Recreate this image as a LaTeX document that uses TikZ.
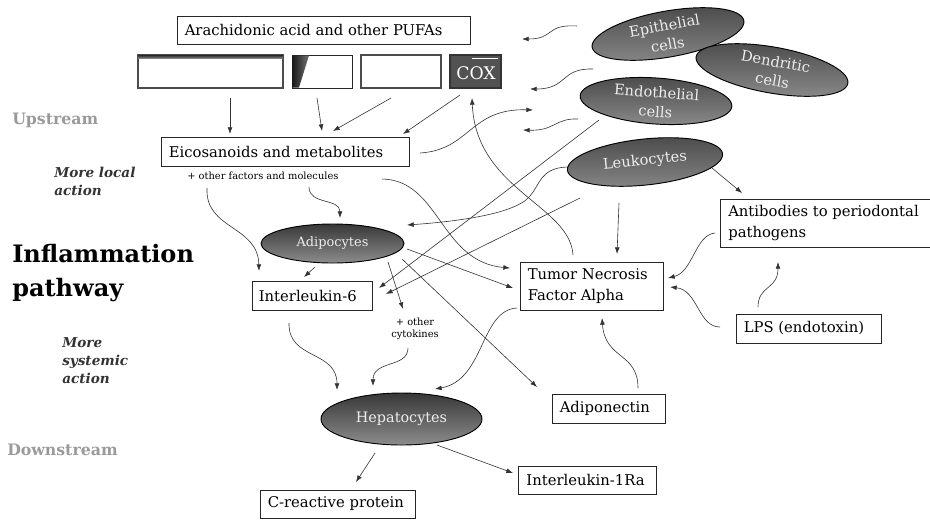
\documentclass[tikz,border=0pt]{standalone}
\usepackage{fontspec}
\setmainfont{DejaVu Serif}
\usetikzlibrary{arrows.meta,shapes.geometric,fit}
\definecolor{cellgray}{HTML}{7A7A7A}
\definecolor{celldark}{HTML}{4A4A4A}
\definecolor{streamgray}{HTML}{9A9A9A}
\definecolor{sidegray}{HTML}{333333}
\begin{document}
\begin{tikzpicture}[x=0.75pt,y=-0.75pt,
  arr/.style={draw=black!80, line width=0.45pt, -{Latex[length=5pt,width=3.6pt]}},
  box/.style={draw=black!85, line width=0.75pt, inner sep=0pt},
  txt/.style={anchor=west, inner sep=0pt, align=left, font=\fontsize{11.1}{15.5}\selectfont},
  cell/.style={ellipse, draw=black, line width=0.7pt, inner sep=0pt, top color=celldark, bottom color=cellgray!90},
  celltxt/.style={inner sep=0pt, text=white!93!black, align=center, font=\fontsize{11}{14.5}\selectfont},
  small/.style={inner sep=0pt, align=center, font=\fontsize{7.4}{9.5}\selectfont},
  stream/.style={anchor=west, inner sep=0pt, text=streamgray, font=\fontsize{11.8}{13}\selectfont\bfseries},
  side/.style={anchor=west, inner sep=0pt, align=left, text=sidegray, font=\fontsize{10.2}{13.5}\selectfont\bfseries\itshape}
]
\useasboundingbox (0,0) rectangle (930,519);

% ---------- left labels ----------
\node[stream] (up) at (12,120) {Upstream};
\node[side] (local) at (54,181) {More local\\action};
\node[anchor=west, inner sep=0pt, align=left, font=\fontsize{18}{25.5}\selectfont\bfseries] (infl) at (12,273) {Inflammation\\pathway};
\node[side] (syst) at (62,361) {More\\systemic\\action};
\node[stream] (down) at (7,450) {Downstream};

% ---------- top boxes ----------
\node[box, fit={(177,16)(470,44)}] (ara) {};
\node[txt] (aratxt) at ([xshift=6pt]ara.west) {Arachidonic acid and other PUFAs};

\node[box, draw=black!70, line width=1.1pt, fit={(138,55)(283,88)}] (b1) {};
\fill[top color=black!85, bottom color=black!50] (138,55) rectangle (283,58);
\node[box, fit={(292,55)(352,88)}] (b2) {};
\shade[left color=black!90, right color=black!55] (292.5,55.5) -- (309,55.5) -- (299,87.5) -- (292.5,87.5) -- cycle;
\node[box, draw=black!70, line width=1.1pt, fit={(361,55)(441,88)}] (b3) {};
\node[box, draw=black!80, fill=black!68, line width=1pt, fit={(450,55)(501,88)}] (cox) {};
\node[inner sep=0pt, text=white, font=\fontsize{13}{14}\selectfont] (coxtxt) at (476,73) {COX};
\draw[white, line width=0.8pt] (472,58.5) -- (498,58.5);

\node[box, fit={(161,137)(409,166)}] (eico) {};
\node[txt] (eicotxt) at ([xshift=6pt]eico.west) {Eicosanoids and metabolites};
\node[small, anchor=west] (other) at (187,176) {+ other factors and molecules};

% ---------- cells ----------
\node[cell, minimum width=154pt*0.75, minimum height=46pt*0.75, rotate=10] (epi) at (668,34) {};
\node[cell, minimum width=154pt*0.75, minimum height=46pt*0.75, rotate=-10] (dend) at (772,70) {};
\node[cell, minimum width=152pt*0.75, minimum height=46pt*0.75, rotate=-4] (endo) at (656,101) {};
\node[cell, minimum width=156pt*0.75, minimum height=46pt*0.75, rotate=6] (leuk) at (645,162) {};
\node[celltxt, rotate=10] (epitxt) at (666,35) {Epithelial\\cells};
\node[celltxt, rotate=-10] (dendtxt) at (774,71) {Dendritic\\cells};
\node[celltxt, rotate=-4] (endotxt) at (656,102) {Endothelial\\cells};
\node[celltxt, rotate=6] (leuktxt) at (645,161) {Leukocytes};
\node[cell, minimum width=143pt*0.75, minimum height=39pt*0.75, top color=black!78, bottom color=black!45] (adipo) at (332.5,243.5) {};
\node[celltxt, font=\fontsize{9.7}{12}\selectfont] (adipotxt) at (332.5,243.5) {Adipocytes};
\node[cell, minimum width=161pt*0.75, minimum height=52pt*0.75, top color=black!78, bottom color=black!45] (hepa) at (401.5,419) {};
\node[celltxt, font=\fontsize{10.8}{13}\selectfont] (hepatxt) at (401.5,419) {Hepatocytes};

% ---------- other boxes ----------
\node[box, fit={(252,281)(372,310)}] (il6) {};
\node[txt] (il6txt) at ([xshift=5.3pt]il6.west) {Interleukin-6};
\node[small] (cyto) at (415,329) {+ other\\cytokines};
\node[box, fit={(520,262)(663,310)}] (tnf) {};
\node[txt] (tnftxt) at ([xshift=6pt]tnf.west) {Tumor Necrosis\\Factor Alpha};
\node[box, fit={(720,199)(940,247)}] (ab) {};
\node[txt] (abtxt) at (728,223) {Antibodies to periodontal\\pathogens};
\node[box, fit={(736,314)(881,343)}] (lps) {};
\node[txt] (lpstxt) at ([xshift=6pt]lps.west) {LPS (endotoxin)};
\node[box, fit={(552,394)(665,423)}] (adn) {};
\node[txt] (adntxt) at ([xshift=6pt]adn.west) {Adiponectin};
\node[box, fit={(518,466)(656,494)}] (il1) {};
\node[txt] (il1txt) at ([xshift=6.5pt]il1.west) {Interleukin-1Ra};
\node[box, fit={(260,490)(415,518)}] (crp) {};
\node[txt] (crptxt) at ([xshift=6pt]crp.west) {C-reactive protein};

% ---------- connector end points ----------
\coordinate (b1s) at (230,98);   \coordinate (e1) at (230,134);
\coordinate (b2s) at (317,98);   \coordinate (e2) at (322,131);
\coordinate (b3s) at (391,98);   \coordinate (e3) at (333,131);
\coordinate (coxs) at (460,95);  \coordinate (e4) at (403,134);
\coordinate (tnfn) at (573,255); \coordinate (coxb) at (472,98);
\coordinate (epis) at (577,26);  \coordinate (epie) at (522,39);
\coordinate (ends1) at (593,69); \coordinate (ende1) at (530,89);
\coordinate (eicor) at (420,153); \coordinate (endin) at (533,110);
\coordinate (ends2) at (578,119); \coordinate (ende2) at (523,130);
\coordinate (ends3) at (599,120); \coordinate (il6a) at (379,288);
\coordinate (leuks1) at (580,198); \coordinate (il6b) at (386,294);
\coordinate (leuks2) at (567,167); \coordinate (leukm) at (530,196); \coordinate (adipr) at (407,225);
\coordinate (leukb) at (619,203); \coordinate (tnft) at (617,254);
\coordinate (leukr) at (712,168); \coordinate (abtl) at (742,193);
\coordinate (abl) at (715,233);  \coordinate (tnfr1) at (668,278);
\coordinate (lpsl) at (720,327); \coordinate (tnfr2) at (670,287);
\coordinate (lpst) at (758,307); \coordinate (abb) at (778,262);
\coordinate (adnt) at (638,388); \coordinate (tnfb) at (602,318);
\coordinate (tnfbl) at (517,308); \coordinate (hepat1) at (435,389);
\coordinate (adips1) at (402,259); \coordinate (adnl) at (537,387);
\coordinate (adips2) at (407,249); \coordinate (tnfl2) at (513,288);
\coordinate (otherr) at (382,179); \coordinate (tnfl1) at (510,268);
\coordinate (otherm) at (309,187); \coordinate (adipt) at (340,218);
\coordinate (otherl) at (207,188); \coordinate (il6t1) at (259,271);
\coordinate (adipbl) at (315,267); \coordinate (il6t2) at (304,277);
\coordinate (adipb) at (388,262); \coordinate (cytot) at (403,309);
\coordinate (il6b2) at (289,323); \coordinate (hepatl) at (337,390);
\coordinate (cytob) at (408,348); \coordinate (hepatm) at (373,386);
\coordinate (hepab) at (375,453); \coordinate (crpt) at (356,482);
\coordinate (hepar) at (437,445); \coordinate (il1l) at (513,473);

% ---------- connectors ----------
\draw[arr] (b1s) -- (e1);
\draw[arr] (b2s) -- (e2);
\draw[arr] (b3s) -- (e3);
\draw[arr] (coxs) -- (e4);
\draw[arr] (tnfn) .. controls (570,205) and (476,190) .. (coxb);
\draw[arr] (epis) .. controls (545,24) and (555,39) .. (epie);
\draw[arr] (ends1) .. controls (560,68) and (568,89) .. (ende1);
\draw[arr] (eicor) .. controls (470,150) and (470,108) .. (endin);
\draw[arr] (ends2) .. controls (555,118) and (555,131) .. (ende2);
\draw[arr] (ends3) -- (il6a);
\draw[arr] (leuks1) -- (il6b);
\draw[arr] (leuks2) .. controls (540,168) and (540,185) .. (leukm) .. controls (515,215) and (450,222) .. (adipr);
\draw[arr] (leukb) -- (tnft);
\draw[arr] (leukr) -- (abtl);
\draw[arr] (abl) .. controls (695,235) and (693,272) .. (tnfr1);
\draw[arr] (lpsl) .. controls (698,327) and (698,290) .. (tnfr2);
\draw[arr] (lpst) .. controls (758,285) and (778,290) .. (abb);
\draw[arr] (adnt) .. controls (638,352) and (605,360) .. (tnfb);
\draw[arr] (tnfbl) .. controls (480,310) and (485,380) .. (hepat1);
\draw[arr] (adips1) -- (adnl);
\draw[arr] (adips2) -- (tnfl2);
\draw[arr] (otherr) .. controls (440,180) and (440,262) .. (tnfl1);
\draw[arr] (otherm) .. controls (309,205) and (340,198) .. (adipt);
\draw[arr] (otherl) .. controls (205,230) and (258,225) .. (il6t1);
\draw[arr] (adipbl) -- (il6t2);
\draw[arr] (adipb) -- (cytot);
\draw[arr] (il6b2) .. controls (288,360) and (337,350) .. (hepatl);
\draw[arr] (cytob) .. controls (408,368) and (373,360) .. (hepatm);
\draw[arr] (hepab) -- (crpt);
\draw[arr] (hepar) -- (il1l);
\end{tikzpicture}
\end{document}
